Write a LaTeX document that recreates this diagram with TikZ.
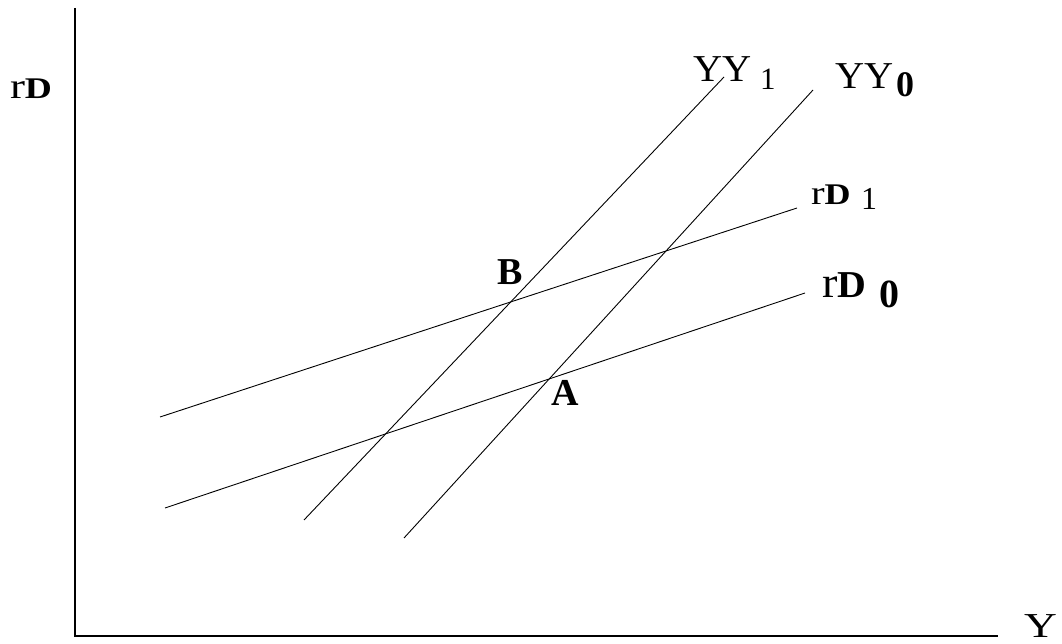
\documentclass[tikz,border=0pt]{standalone}
\usepackage{fontspec}
\setmainfont{Liberation Serif}
\newcommand{\fs}[1]{\fontsize{#1}{#1}\selectfont}
\tikzset{
  curve/.style={line width=0.9pt, black},
  axisline/.style={line width=1.3pt, black},
  lbl/.style={anchor=base west, inner sep=0pt, outer sep=0pt},
}
\begin{document}
\begin{tikzpicture}[x=1pt,y=-1pt]
\useasboundingbox (0,0) rectangle (1062,644);
% axes
\coordinate (otop) at (75,8);
\coordinate (o) at (75,636);
\coordinate (xend) at (998,636);
\draw[axisline] (otop) -- (o) -- (xend);
% rD curves
\coordinate (rd1a) at (160,417);
\coordinate (rd1b) at (797,208);
\coordinate (rd0a) at (165,508);
\coordinate (rd0b) at (805,293);
\draw[curve] (rd1a) -- (rd1b);
\draw[curve] (rd0a) -- (rd0b);
% YY curves
\coordinate (yy1a) at (304,520);
\coordinate (yy1b) at (724,77);
\coordinate (yy0a) at (404,538);
\coordinate (yy0b) at (813,90);
\draw[curve] (yy1a) -- (yy1b);
\draw[curve] (yy0a) -- (yy0b);
% labels
\node[lbl] (lrd) at (10,99) {\scalebox{1.25}[1]{\fs{36}r\fs{30}\textbf{D}}};
\node[lbl] (lyy1) at (693,82) {\fs{38}\scalebox{1.06}[1]{YY}};
\node[lbl] (lyy1s) at (760,90) {\fs{31}1};
\node[lbl] (lyy0) at (835,89) {\fs{38}\scalebox{1.06}[1]{YY}};
\node[lbl] (lyy0s) at (896,97) {\fs{36}\textbf{0}};
\node[lbl] (lrd1) at (811,205) {\scalebox{1.2}[1]{\fs{34}r\fs{30}\textbf{D}}};
\node[lbl] (lrd1s) at (861,210) {\fs{32}1};
\node[lbl] (lrd0) at (822,298) {\scalebox{1.05}[1]{\fs{44}r\fs{38}\textbf{D}}};
\node[lbl] (lrd0s) at (879,307) {\fs{40}\textbf{0}};
\node[lbl] (lb) at (497,284) {\fs{38}\textbf{B}};
\node[lbl] (la) at (551,405) {\fs{38}\textbf{A}};
\node[lbl] (ly) at (1024,637) {\fs{35}\scalebox{1.3}[1]{Y}};
\end{tikzpicture}
\end{document}
